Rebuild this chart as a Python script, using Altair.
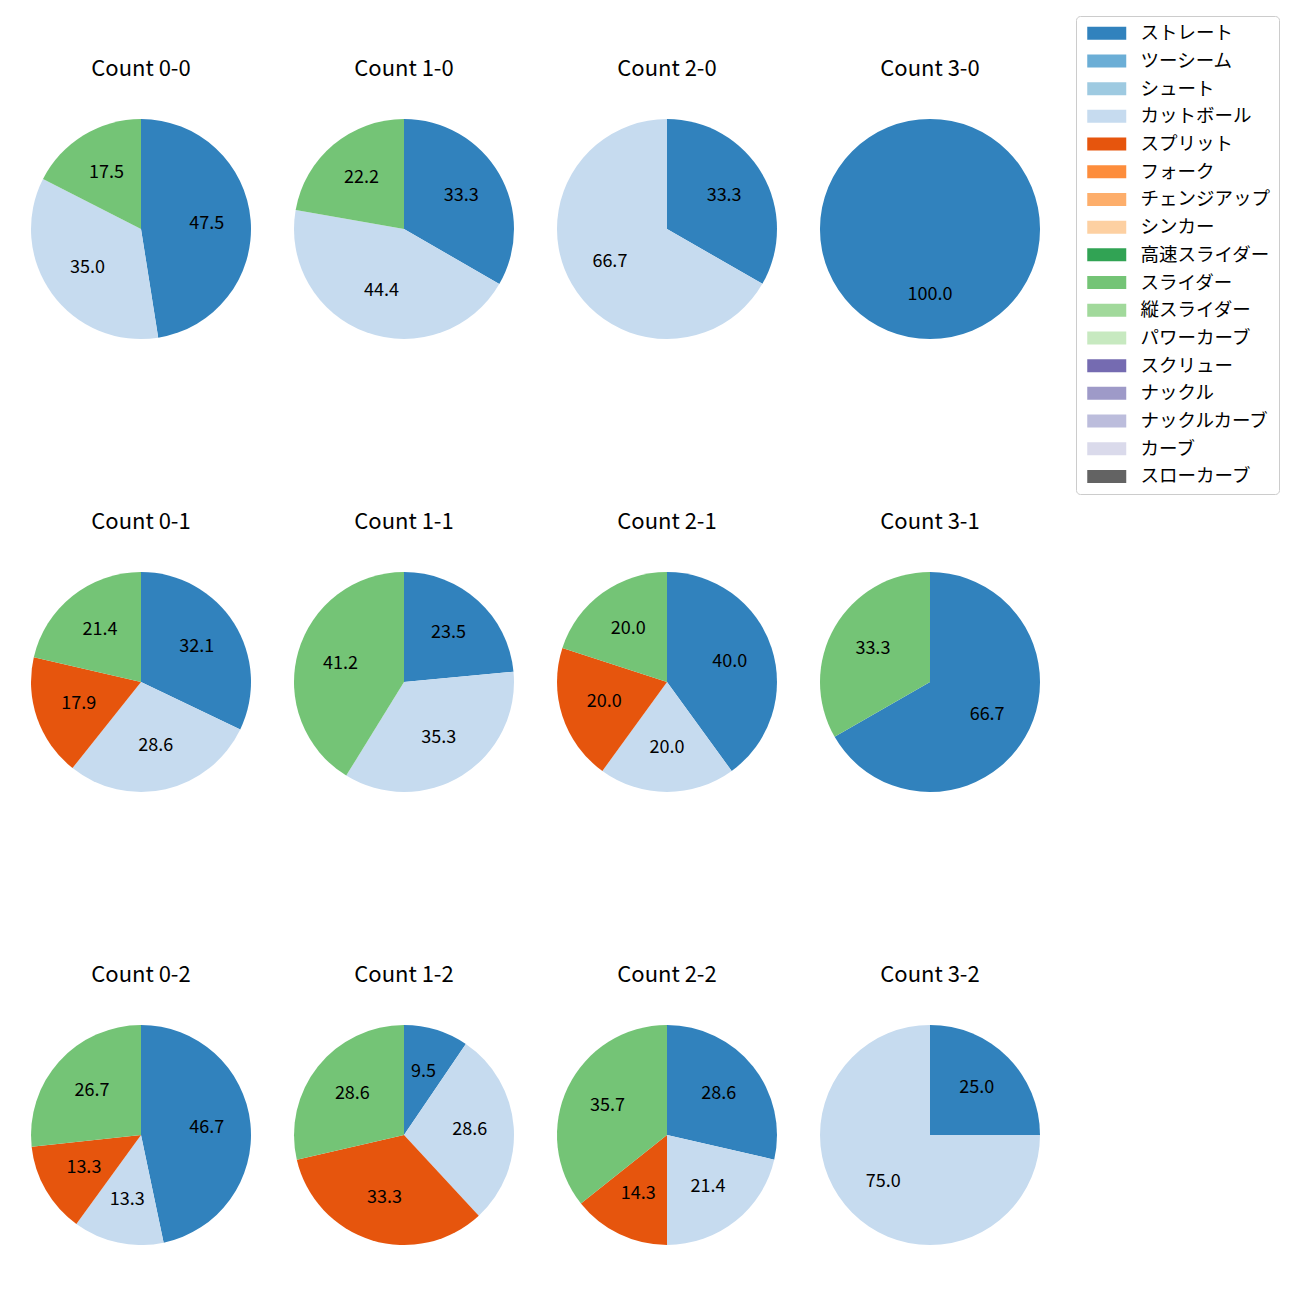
import altair as alt
import pandas as pd

pitch_names = ["ストレート", "ツーシーム", "シュート", "カットボール", "スプリット", "フォーク",
               "チェンジアップ", "シンカー", "高速スライダー", "スライダー", "縦スライダー",
               "パワーカーブ", "スクリュー", "ナックル", "ナックルカーブ", "カーブ", "スローカーブ"]
pitch_colors = ["#3182bd", "#6baed6", "#9ecae1", "#c6dbef", "#e6550d", "#fd8d3c",
                "#fdae6b", "#fdd0a2", "#31a354", "#74c476", "#a1d99b", "#c7e9c0",
                "#756bb1", "#9e9ac8", "#bcbddc", "#dadaeb", "#636363"]

counts = ["0-0", "1-0", "2-0", "3-0", "0-1", "1-1", "2-1", "3-1", "0-2", "1-2", "2-2", "3-2"]
straight = [47.5, 33.3, 33.3, 100.0, 32.1, 23.5, 40.0, 66.7, 46.7, 9.5, 28.6, 25.0]
cutball = [35.0, 44.4, 66.7, 0.0, 28.6, 35.3, 20.0, 0.0, 13.3, 28.6, 21.4, 75.0]
split = [0.0, 0.0, 0.0, 0.0, 17.9, 0.0, 20.0, 0.0, 13.3, 33.3, 14.3, 0.0]
slider = [17.5, 22.2, 0.0, 0.0, 21.4, 41.2, 20.0, 33.3, 26.7, 28.6, 35.7, 0.0]

series = [("ストレート", straight), ("カットボール", cutball), ("スプリット", split), ("スライダー", slider)]
rows = []
for i, c in enumerate(counts):
    for name, vals in series:
        if vals[i] > 0:
            rows.append({"cnt": c, "pitch": name, "ord": pitch_names.index(name), "pct": vals[i]})
df = pd.DataFrame(rows)

FONT = "Noto Sans CJK JP"
R = 110
color_scale = alt.Scale(domain=pitch_names, range=pitch_colors)
legend = alt.Legend(
    title=None, orient="none", legendX=1045, legendY=-103,
    symbolType="M-1.2,-1.3H6.6V1.3H-1.2Z", symbolSize=100, symbolStrokeWidth=0,
    labelFont=FONT, labelFontSize=18.5, labelColor="#000000", labelOffset=38,
    rowPadding=8.7, padding=8, strokeColor="#cccccc", fillColor="#ffffff",
    cornerRadius=4, labelLimit=300,
)


def panel(c):
    base = alt.Chart(df).transform_filter(alt.datum.cnt == c).encode(
        theta=alt.Theta("pct:Q", stack=True),
        order=alt.Order("ord:Q"),
    )
    arc = base.mark_arc(outerRadius=R).encode(
        color=alt.Color("pitch:N", scale=color_scale, legend=legend)
    )
    text = base.mark_text(radius=R * 0.6, font=FONT, fontSize=18, color="#000000").encode(
        text=alt.Text("pct:Q", format=".1f"),
        detail="pitch:N",
    )
    return alt.layer(arc, text).properties(
        width=220, height=220,
        title=alt.Title(f"Count {c}", font=FONT, fontSize=22, fontWeight="normal",
                        color="#000000", offset=21, baseline="alphabetic"),
    )


grid_rows = [alt.hconcat(*[panel(counts[r * 4 + k]) for k in range(4)], spacing=43) for r in range(3)]
chart = alt.vconcat(*grid_rows, spacing=172).properties(
    padding={"left": 31, "top": 15, "right": 0, "bottom": 0}
).configure_view(stroke=None)

chart.save("out.html", embed_options={"renderer": "svg", "actions": False})
